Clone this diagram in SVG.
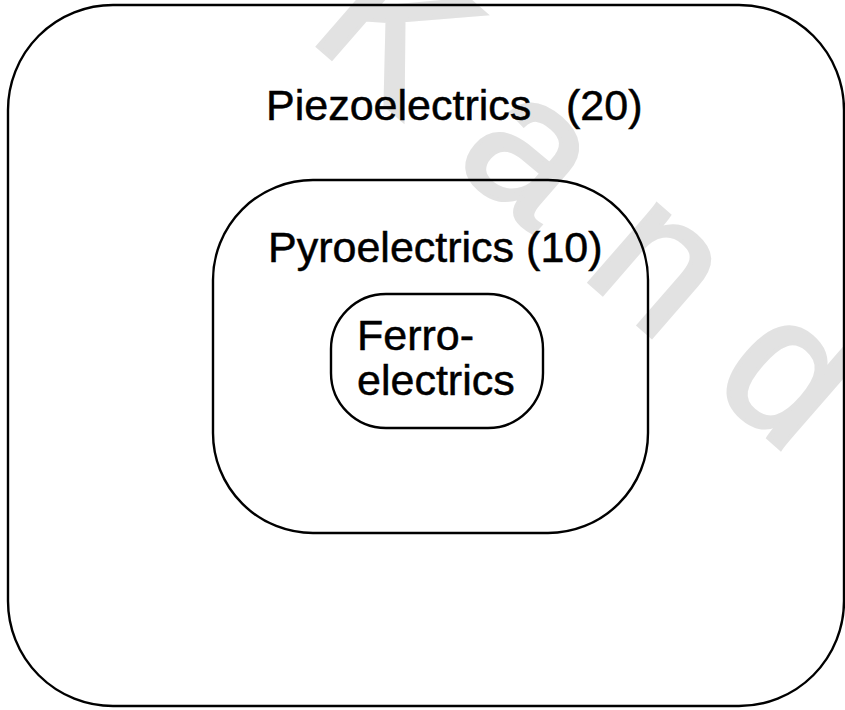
<svg xmlns="http://www.w3.org/2000/svg" width="845" height="710" viewBox="0 0 845 710">
  <style>
    .set { fill: none; stroke: #000; stroke-width: 2.4; }
    .lbl { font-family: "Liberation Sans", Arial, Helvetica, sans-serif; font-size: 43px; fill: #000; stroke: #000; stroke-width: 0.5; }
    .wm { font-family: "Liberation Sans", Arial, sans-serif; font-size: 195px; fill: #e2e2e2; stroke: #e2e2e2; stroke-width: 4; letter-spacing: 62px; }
  </style>
  <rect width="845" height="710" fill="#fff"/>
  <!-- faint background mark -->
  <text class="wm" transform="translate(306,36) rotate(41)">Kand</text>

  <g id="piezoelectrics">
    <rect class="set" x="8" y="5" width="836" height="701" rx="105" ry="105"/>
    <text class="lbl" x="266" y="120">Piezoelectrics</text>
    <text class="lbl" x="566" y="120">(20)</text>
  </g>

  <g id="pyroelectrics">
    <rect class="set" x="213" y="180" width="435" height="353" rx="100" ry="100"/>
    <text class="lbl" x="268" y="262">Pyroelectrics (10)</text>
  </g>

  <g id="ferroelectrics">
    <rect class="set" x="331" y="294" width="212" height="134" rx="55" ry="55"/>
    <text class="lbl" x="357" y="350">Ferro-</text>
    <text class="lbl" x="357" y="395">electrics</text>
  </g>

  <g id="connectors"/>
</svg>
